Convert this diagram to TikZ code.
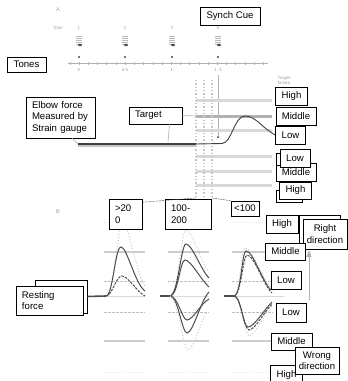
\documentclass[tikz,border=0pt]{standalone}
\usepackage{fontspec}
\setmainfont{Liberation Sans}
\usetikzlibrary{arrows.meta,calc,positioning}

\tikzset{
  lbl/.style={draw=black,fill=white,line width=0.6pt,inner xsep=6pt,inner ysep=0pt,
    font=\fontsize{9.6}{11.4}\selectfont,align=center},
  tiny/.style={text=gray!75,font=\fontsize{4.5}{5}\selectfont,inner sep=0pt},
  band/.style={line width=3pt,gray!30},
  conn/.style={gray!65,line width=0.6pt},
  reflev/.style={line width=1.4pt,gray!40},
  refdash/.style={line width=1pt,gray!50,dash pattern=on 2.5pt off 1.5pt},
  refdot/.style={line width=1pt,gray!25,dotted},
  curve/.style={line width=1pt,black!70},
  faint/.style={line width=1pt,gray!45,dotted},
}

\begin{document}
\begin{tikzpicture}[x=1pt,y=-1pt,>=Latex]
\useasboundingbox (0,0) rectangle (348,381);

% ---- part A: tones
\node[tiny,font=\fontsize{5.5}{6}\selectfont] (labA) at (58,10) {A};
\node[tiny] (tone) at (58,28) {Tone};
\foreach \n/\tx in {1/79,2/125,3/172,4/218}{
  \node[tiny] (num\n) at (\tx,28) {\n};
  \foreach \yy in {36,38,40,42,44}
    \draw[gray!55,line width=0.5pt] (\tx-3,\yy) -- (\tx+3,\yy);
  \fill[black!70] (\tx+1,45) ellipse (2pt and 1.2pt);
  \fill[black!80] (\tx,57) ellipse (0.8pt and 1.4pt);
}
\draw[gray!60,line width=0.6pt] (68,63) -- (268,63);
\foreach \k in {-1,...,20}
  \draw[gray!60,line width=0.5pt] ({79+9.22*\k},61.5) -- ++(0,3);
\node[tiny] (t0) at (79,70) {0};
\node[tiny] (t05) at (125,70) {0.5};
\node[tiny] (t1) at (172,70) {1};
\node[tiny] (t15) at (218,70) {1. 5};

% synch cue line
\draw[gray!60,line width=1pt] (218,75) -- (218,137);
\fill[black!75] (218,137) circle (1pt);

% target force bands
\foreach \yy in {100,130,156,171,185}
  \draw[band] (196,\yy) -- (272,\yy);
\draw[band,gray!60] (196,116) -- (272,116);
\node[tiny,align=left] (tforces) at (284,80.5) {Target\\forces};

% timing lines
\foreach \x/\n in {196/1,204/2,212/3}
  \draw[line width=1.3pt,gray!45,dotted] (\x,80) -- (\x,198) coordinate (d\n);

% force trace
\coordinate (tr0) at (78,144);
\coordinate (tr1) at (196,144);
\draw[line width=1.6pt,gray!45] (78,146) -- (196,146);
\draw[line width=1.8pt,black!75] (tr0) -- (tr1);

\node[lbl,minimum width=29pt,minimum height=18pt] (lowA) at (290.5,135) {Low};
\draw[line width=0.9pt,black!75] (tr1) -- (222,143.5)
  .. controls (232,143) and (234,116) .. (245,116)
  .. controls (256,116) and (263,129) .. (lowA.west);

% labels A
\node[lbl,minimum width=39pt,minimum height=15pt] (tones) at (26.5,64.5) {Tones};
\node[lbl,minimum width=60pt,minimum height=18pt] (synch) at (230,16) {Synch Cue};
\node[lbl,text width=57pt,align=left,minimum height=41pt] (elbow) at (60.5,117.5)
  {Elbow force\\Measured by\\Strain gauge};
\node[lbl,text width=41pt,align=left,minimum height=17pt] (target) at (155.5,115.5) {Target};
\draw[conn] ($(elbow.south)+(11.5,0)$) -- (tr0);
\draw[conn] (target.east) -- (197,116);
\draw[conn] ($(target.south)+(14,0)$) -- (168,142);
\node[lbl,minimum width=31pt,minimum height=18pt] (highA) at (291.5,96) {High};
\node[lbl,minimum width=40pt,minimum height=18pt] (midA) at (296,116) {Middle};
\node[lbl,minimum width=40pt,minimum height=18pt] (midA2) at (296,172) {Middle};
\node[lbl,minimum width=26pt,minimum height=12pt] (lowA2back) at (289,159) {};
\node[lbl,minimum width=30pt,minimum height=18pt] (lowA2) at (295,158) {Low};
\node[lbl,minimum width=26pt,minimum height=12pt] (highA2back) at (289,196) {};
\node[lbl,minimum width=31pt,minimum height=17pt] (highA2) at (295.5,190.5) {High};

% ---- part B
\node[tiny,font=\fontsize{5.5}{6}\selectfont] (labB) at (58,212) {B};
\foreach \px in {104,168,232}{
  \draw[refdot] (\px,222) -- ++(41,0);
  \draw[reflev] (\px,252) -- ++(41,0);
  \draw[refdash] (\px,281) -- ++(41,0);
  \draw[line width=1pt,gray!30] (\px,296) -- ++(41,0);
  \draw[refdash] (\px,312) -- ++(41,0);
  \draw[reflev] (\px,341) -- ++(41,0);
  \draw[refdot] (\px,372) -- ++(41,0);
}
\draw[line width=1pt,gray!30] (272,296) -- (284,296);

% resting force
\node[lbl,minimum width=52pt,minimum height=33pt] (restback) at (61,296.5) {};
\node[lbl,text width=55pt,align=left,minimum height=29pt] (rest) at (49.5,300.5) {Resting\\force};
\draw[line width=1.6pt,black!70] (restback.east) -- (106,296);
\draw[line width=1.6pt,black!70] (160,296) -- (170,296);
\draw[line width=1.6pt,black!70] (224,296) -- (234,296);

% panel >200
\draw[faint] (106,296) .. controls (114,296) and (118,222) .. (123,222) .. controls (128,222) and (137,276) .. (145,286);
\draw[curve] (106,296) .. controls (113,296) and (115,247) .. (121,247) .. controls (127,247) and (135,284) .. (145,291);
\draw[curve,dash pattern=on 2.5pt off 1.2pt] (106,296) .. controls (112,296) and (116,276) .. (122,276) .. controls (128,276) and (137,292) .. (145,296);

% panel 100-200
\draw[faint] (170,296) .. controls (178,296) and (181,230) .. (186,230) .. controls (192,230) and (201,262) .. (209,272);
\draw[curve] (170,296) .. controls (178,296) and (181,244) .. (186,244) .. controls (192,244) and (201,270) .. (209,278);
\draw[curve] (170,296) .. controls (178,296) and (180,260) .. (185,260) .. controls (191,260) and (201,280) .. (209,287);
\draw[curve] (170,296) .. controls (178,296) and (182,320) .. (187,320) .. controls (193,320) and (201,303) .. (209,299);
\draw[curve] (170,296) .. controls (178,296) and (182,333) .. (187,333) .. controls (193,333) and (201,300) .. (209,292);
\draw[faint] (170,296) .. controls (178,296) and (183,350) .. (188,350) .. controls (194,350) and (201,318) .. (208,312);

% panel <100
\draw[faint] (234,296) .. controls (240,296) and (241,248) .. (245,248) .. controls (252,248) and (263,280) .. (272,288);
\draw[curve] (234,296) .. controls (241,296) and (242,251) .. (246,251) .. controls (253,251) and (263,283) .. (271,290);
\draw[curve,dash pattern=on 2.5pt off 1.2pt] (234,296) .. controls (241,296) and (243,255) .. (247,255) .. controls (254,255) and (264,286) .. (272,293);
\draw[faint] (234,296) .. controls (241,296) and (245,336) .. (249,336) .. controls (255,336) and (264,314) .. (272,306);
\draw[curve] (234,296) .. controls (241,296) and (243,327) .. (248,327) .. controls (254,327) and (264,310) .. (272,302);
\draw[curve,dash pattern=on 2.5pt off 1.2pt] (234,296) .. controls (241,296) and (244,330) .. (249,330) .. controls (255,330) and (264,312) .. (272,304);

% timing boxes
\node[lbl,text width=21pt,align=left,minimum height=30pt] (gt) at (125.5,214) {>20\\0};
\node[lbl,text width=34pt,align=left,minimum height=30pt] (mid) at (188,214) {100-\\200};
\node[lbl,minimum width=28pt,minimum height=15pt,inner xsep=3pt] (lt) at (245,208.5) {<100};
\draw[conn,black!70,line width=0.4pt,dash pattern=on 2pt off 0.8pt] (gt.35) -- (d1);
\draw[conn,black!70,line width=0.4pt,dash pattern=on 2pt off 0.8pt] (lt.north west) -- (d3);

% direction labels
\node[lbl,minimum width=32pt,minimum height=18pt] (highB) at (282,224) {High};
\node[lbl,minimum width=41pt,minimum height=30pt] (rdirback) at (319.5,230) {};
\node[lbl,minimum width=44pt,minimum height=30pt,inner xsep=4pt] (rdir) at (325,234) {Right\\direction};
\coordinate (ra) at (309,300);
\draw[->,gray!60,line width=1pt] (ra) -- (ra |- rdir.south);
\node[lbl,minimum width=39pt,minimum height=17pt] (midB) at (285.5,251.5) {Middle};
\node[lbl,minimum width=30pt,minimum height=18pt] (lowB) at (286,280) {Low};
\node[lbl,minimum width=30pt,minimum height=19pt] (lowB2) at (291,312.5) {Low};
\node[lbl,minimum width=41pt,minimum height=17pt] (midB2) at (291.5,341.5) {Middle};
\node[lbl,minimum width=31pt,minimum height=20pt] (highB2) at (286.5,375) {High};
\node[lbl,minimum width=44pt,minimum height=27pt,inner xsep=4pt] (wdir) at (317,360.5) {Wrong\\direction};
\end{tikzpicture}
\end{document}
